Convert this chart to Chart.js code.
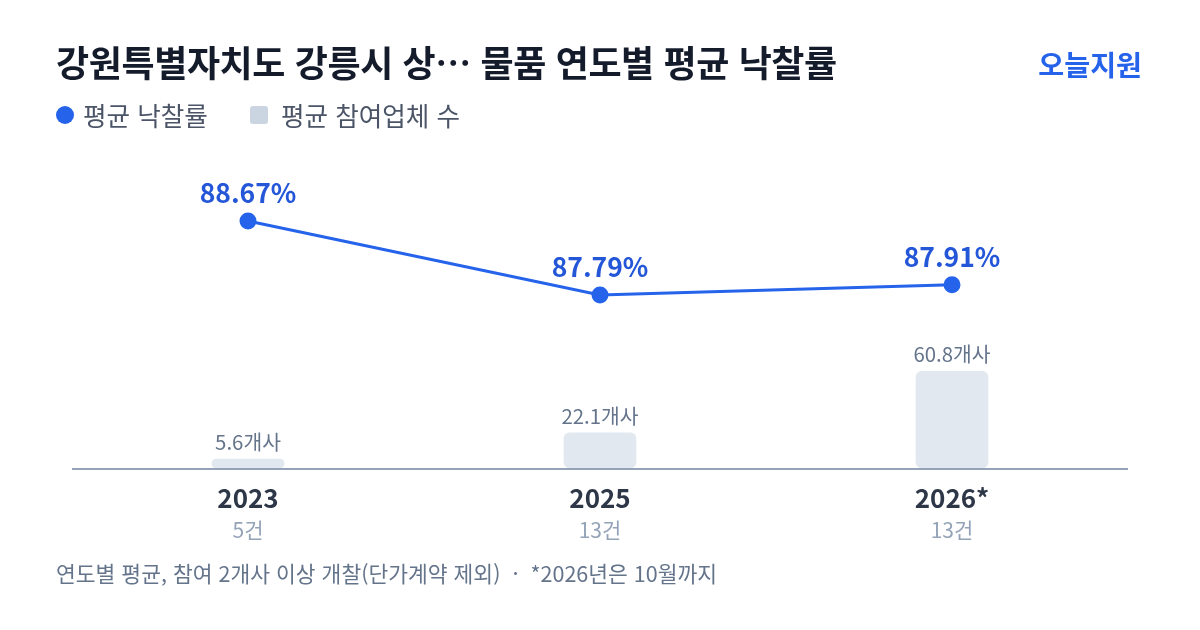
<!DOCTYPE html>
<html lang="ko">
<head>
<meta charset="utf-8">
<script src="https://cdn.jsdelivr.net/npm/chart.js@4/dist/chart.umd.min.js"></script>
<style>
  html, body { margin: 0; padding: 0; background: #fff; }
  body { width: 1200px; height: 630px; position: relative; overflow: hidden;
         font-family: "Noto Sans CJK KR", "Noto Sans", sans-serif; }
  #title { position: absolute; left: 56px; top: 35px; font-size: 36px; font-weight: 700; color: #141b2b; letter-spacing: -0.4px; white-space: nowrap; }
  #brand { position: absolute; right: 58px; top: 43px; font-size: 28.2px; font-weight: 700; color: #2563eb; }
  #legend { position: absolute; left: 56px; top: 95.5px; font-size: 25.6px; color: #4b5567; display: flex; align-items: center; white-space: nowrap; }
  .dot { width: 18px; height: 18px; border-radius: 50%; background: #2563eb; display: inline-block; margin-right: 9px; position: relative; top: 1px; }
  .sq { width: 18px; height: 18px; border-radius: 3px; background: #cbd5e1; display: inline-block; margin-left: 42px; margin-right: 13px; position: relative; top: 1px; }
  #foot { position: absolute; left: 56px; top: 557px; font-size: 21.5px; color: #64748b; white-space: nowrap; }
  #wrap { position: absolute; left: 0; top: 0; width: 1200px; height: 630px; }
</style>
</head>
<body>
<div id="wrap"><canvas id="myChart" width="1200" height="630"></canvas></div>
<div id="title">강원특별자치도 강릉시 상… 물품 연도별 평균 낙찰률</div>
<div id="brand">오늘지원</div>
<div id="legend"><span class="dot"></span>평균 낙찰률<span class="sq"></span>평균 참여업체 수</div>
<div id="foot">연도별 평균, 참여 2개사 이상 개찰(단가계약 제외)&nbsp; · &nbsp;*2026년은 10월까지</div>
<script>
let years = ['2023', '2025', '2026*']
let counts = ['5건', '13건', '13건']
let rates = [88.67, 87.79, 87.91]
let bidders = [5.6, 22.1, 60.8]

let font = '"Noto Sans CJK KR", "Noto Sans", sans-serif'

let labelsPlugin = {
    id: 'labels',
    afterDatasetsDraw(chart) {
        let c = chart.ctx
        let x = chart.scales.x
        let area = chart.chartArea
        let lineMeta = chart.getDatasetMeta(1)
        let barMeta = chart.getDatasetMeta(0)
        c.save()
        // baseline
        c.strokeStyle = '#94a3b8'
        c.lineWidth = 2
        c.beginPath()
        c.moveTo(area.left, area.bottom + 1)
        c.lineTo(area.right, area.bottom + 1)
        c.stroke()
        c.textAlign = 'center'
        c.textBaseline = 'alphabetic'
        years.forEach((y, i) => {
            let px = x.getPixelForValue(i)
            c.font = '700 26px ' + font
            c.fillStyle = '#2d3748'
            c.fillText(y, px, 508)
            c.font = '400 21px ' + font
            c.fillStyle = '#94a3b8'
            c.fillText(counts[i], px, 538)
            let bar = barMeta.data[i]
            c.font = '400 20.4px ' + font
            c.fillStyle = '#64748b'
            c.fillText(bidders[i] + '개사', px, bar.y - 9)
            let pt = lineMeta.data[i]
            c.font = '700 26.5px ' + font
            c.fillStyle = '#2456d8'
            c.fillText(rates[i].toFixed(2) + '%', px, pt.y - 18)
        })
        c.restore()
    }
}

let ctx = document.getElementById('myChart').getContext('2d')
let myChart = new Chart(ctx, {
    type: 'bar',
    data: {
        labels: years,
        datasets: [{
            type: 'bar',
            label: '평균 참여업체 수',
            data: bidders,
            yAxisID: 'yBar',
            backgroundColor: '#e2e8f0',
            barThickness: 72,
            borderRadius: 6,
            borderSkipped: false,
            order: 2
        }, {
            type: 'line',
            label: '평균 낙찰률',
            data: rates,
            yAxisID: 'yRate',
            borderColor: '#2563eb',
            backgroundColor: '#2563eb',
            borderWidth: 3,
            pointRadius: 7,
            pointHoverRadius: 7,
            tension: 0,
            fill: false,
            order: 1
        }]
    },
    options: {
        responsive: false,
        animation: false,
        layout: { padding: { left: 72, right: 72, top: 150, bottom: 162 } },
        plugins: { legend: { display: false }, tooltip: { enabled: false } },
        scales: {
            x: { display: false, offset: true, grid: { display: false } },
            yBar: { display: false, min: 0, max: 200 },
            yRate: { display: false, min: 85.73, max: 89.515 }
        }
    },
    plugins: [labelsPlugin]
})
</script>
</body>
</html>
